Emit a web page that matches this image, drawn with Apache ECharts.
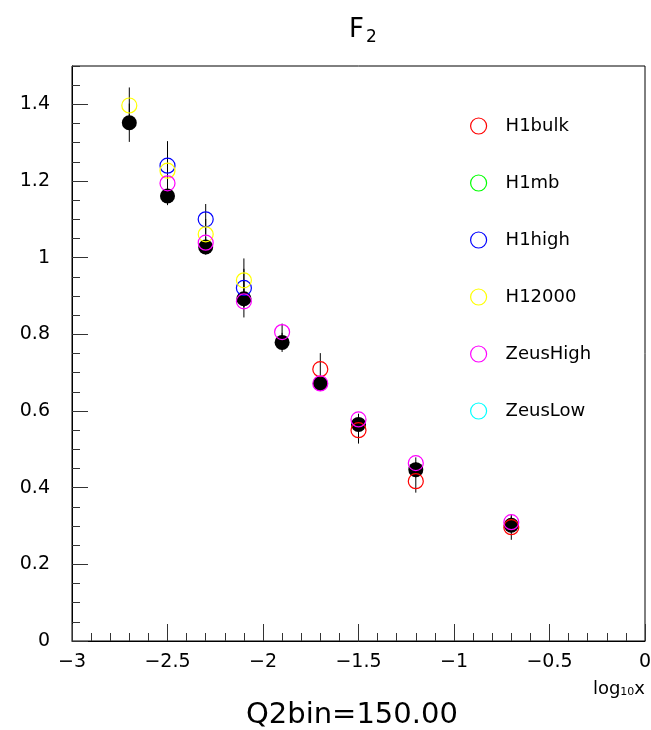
<!DOCTYPE html>
<html lang="en">
<head>
    <meta charset="UTF-8">
    <title>F2</title>
    <script src="https://cdn.jsdelivr.net/npm/echarts@6/dist/echarts.min.js"></script>
    <style>
        html, body { margin: 0; padding: 0; background: #fff; }
        #chart { width: 651px; height: 730px; }
    </style>
</head>
<body>
<div id="chart"></div>
<script type="text/javascript">
    // values: log10(x), F2, error
    var h1bulkX = [-1.7, -1.5, -1.2, -0.7];
    var h1bulkY = [0.709, 0.550, 0.417, 0.297];
    var h1bulkE = [0.042, 0.035, 0.030, 0.033];

    var h1mbX = [];
    var h1mbY = [];
    var h1mbE = [];

    var h1highX = [-2.5, -2.3, -2.1];
    var h1highY = [1.240, 1.100, 0.921];
    var h1highE = [0.064, 0.040, 0.050];

    var h12000X = [-2.7, -2.5, -2.3, -2.1];
    var h12000Y = [1.397, 1.227, 1.061, 0.941];
    var h12000E = [0.047, 0.040, 0.040, 0.057];

    var zeusHighX = [-2.5, -2.3, -2.1, -1.9, -1.7, -1.5, -1.2, -0.7];
    var zeusHighY = [1.194, 1.039, 0.886, 0.806, 0.672, 0.578, 0.464, 0.310];
    var zeusHighE = [0.020, 0.015, 0.015, 0.022, 0.015, 0.015, 0.015, 0.015];

    var zeusLowX = [];
    var zeusLowY = [];
    var zeusLowE = [];

    var avgX = [-2.7, -2.5, -2.3, -2.1, -1.9, -1.7, -1.5, -1.2, -0.7];
    var avgY = [1.352, 1.161, 1.028, 0.893, 0.779, 0.672, 0.565, 0.447, 0.302];
    var avgE = [0.050, 0.024, 0.020, 0.049, 0.025, 0.020, 0.020, 0.020, 0.020];

    var xTicks = [-3, -2.5, -2, -1.5, -1, -0.5, 0];
    var yTicks = [0, 0.2, 0.4, 0.6, 0.8, 1, 1.2, 1.4];

    var FONT = 'DejaVu Sans';

    var sets = [
        {name: 'H1bulk',    color: '#ff0000', x: h1bulkX,   y: h1bulkY,   e: h1bulkE},
        {name: 'H1mb',      color: '#00ff00', x: h1mbX,     y: h1mbY,     e: h1mbE},
        {name: 'H1high',    color: '#0000ff', x: h1highX,   y: h1highY,   e: h1highE},
        {name: 'H12000',    color: '#ffff00', x: h12000X,   y: h12000Y,   e: h12000E},
        {name: 'ZeusHigh',  color: '#ff00ff', x: zeusHighX, y: zeusHighY, e: zeusHighE},
        {name: 'ZeusLow',   color: '#00ffff', x: zeusLowX,  y: zeusLowY,  e: zeusLowE}
    ];

    function pairs(xs, ys) {
        var out = [];
        for (var i = 0; i < xs.length; i++) out.push([xs[i], ys[i]]);
        return out;
    }

    // error bars of every set, drawn under the markers
    var errData = [];
    function addErr(xs, ys, es) {
        for (var i = 0; i < xs.length; i++) errData.push([xs[i], ys[i] - es[i], ys[i] + es[i]]);
    }
    addErr(avgX, avgY, avgE);
    for (var k = 0; k < sets.length; k++) addErr(sets[k].x, sets[k].y, sets[k].e);

    var series = [
        {
            name: 'err',
            type: 'custom',
            data: errData,
            encode: {x: 0, y: [1, 2]},
            renderItem: function (params, api) {
                var lo = api.coord([api.value(0), api.value(1)]);
                var hi = api.coord([api.value(0), api.value(2)]);
                return {
                    type: 'line',
                    shape: {x1: lo[0], y1: lo[1], x2: hi[0], y2: hi[1]},
                    style: {stroke: '#000', lineWidth: 1}
                };
            },
            silent: true
        },
        {
            name: 'avg',
            type: 'scatter',
            symbol: 'circle',
            symbolSize: 15,
            itemStyle: {color: '#000', opacity: 1},
            data: pairs(avgX, avgY),
            silent: true
        }
    ];
    for (var j = 0; j < sets.length; j++) {
        series.push({
            name: sets[j].name,
            type: 'scatter',
            symbol: 'circle',
            symbolSize: 15,
            itemStyle: {color: 'rgba(0,0,0,0)', borderColor: sets[j].color, borderWidth: 1.2, opacity: 1},
            data: pairs(sets[j].x, sets[j].y),
            silent: true
        });
    }

    var gridPos = {left: 72, right: 6, top: 66, bottom: 89, outerBoundsMode: 'none', containLabel: false};

    var myChart = echarts.init(document.getElementById('chart'), null, {renderer: 'canvas'});
    var option = {
        animation: false,
        backgroundColor: '#fff',
        title: {
            text: '{f|F}{s|2}',
            left: 344,
            top: 10,
            textStyle: {
                fontWeight: 'normal',
                rich: {
                    f: {fontFamily: FONT, fontSize: 26, fontWeight: 'normal', color: '#000'},
                    s: {fontFamily: FONT, fontSize: 17, fontWeight: 'normal', color: '#000', padding: [14, 0, 0, 2]}
                }
            }
        },
        legend: {
            orient: 'vertical',
            left: 465,
            top: 112,
            itemWidth: 16,
            itemHeight: 16,
            itemGap: 39,
            selectedMode: false,
            data: sets.map(function (s) {
                return {name: s.name, icon: 'circle',
                    itemStyle: {color: 'rgba(0,0,0,0)', borderColor: s.color, borderWidth: 1.2}};
            }),
            textStyle: {fontFamily: FONT, fontSize: 18, color: '#000', padding: [0, 0, 0, 14]}
        },
        grid: [
            Object.assign({show: true, borderColor: '#000', borderWidth: 1, backgroundColor: 'transparent'}, gridPos),
            // twin grid only for the 0.05 minor ticks on the left edge
            Object.assign({show: false}, gridPos)
        ],
        xAxis: [
            {
                type: 'value',
                min: xTicks[0],
                max: xTicks[xTicks.length - 1],
                interval: 0.5,
                splitLine: {show: false},
                axisLine: {onZero: false, lineStyle: {color: '#000', width: 1}},
                axisTick: {inside: true, length: 17, lineStyle: {color: '#333'}},
                minorTick: {show: true, splitNumber: 5, length: 8, lineStyle: {color: '#333'}},
                axisLabel: {
                    margin: 12,
                    fontFamily: FONT,
                    fontSize: 19,
                    color: '#000',
                    formatter: function (v) { return String(v).replace('-', '\u2212'); }
                }
            },
            {
                gridIndex: 1,
                type: 'value',
                min: -3,
                max: 0,
                show: false
            }
        ],
        yAxis: [
            {
                type: 'value',
                min: 0,
                max: 1.5,
                interval: 0.2,
                splitLine: {show: false},
                axisLine: {show: true, onZero: false, lineStyle: {color: '#000', width: 1}},
                axisTick: {inside: true, length: 16, lineStyle: {color: '#333'}},
                axisLabel: {
                    margin: 22,
                    showMaxLabel: false,
                    fontFamily: FONT,
                    fontSize: 19,
                    color: '#000',
                    formatter: function (v) {
                        var r = Math.round(v * 10) / 10;
                        return yTicks.indexOf(r) >= 0 ? String(r) : '';
                    }
                }
            },
            {
                gridIndex: 1,
                type: 'value',
                position: 'left',
                min: 0,
                max: 1.5,
                interval: 0.05,
                splitLine: {show: false},
                axisLine: {show: false, onZero: false},
                axisTick: {inside: true, length: 8, lineStyle: {color: '#333'}},
                axisLabel: {show: false}
            }
        ],
        graphic: [
            {
                type: 'text',
                right: 6,
                top: 680,
                style: {
                    text: 'log{s|10}x',
                    fontFamily: FONT,
                    fontSize: 18,
                    fill: '#000',
                    rich: {s: {fontFamily: FONT, fontSize: 11, fill: '#000', padding: [6, 0, 0, 0]}}
                }
            },
            {
                type: 'text',
                left: 246,
                top: 701,
                style: {text: 'Q2bin=150.00', fontFamily: FONT, fontSize: 29, fill: '#000'}
            }
        ],
        series: series
    };
    myChart.setOption(option);
</script>
</body>
</html>
